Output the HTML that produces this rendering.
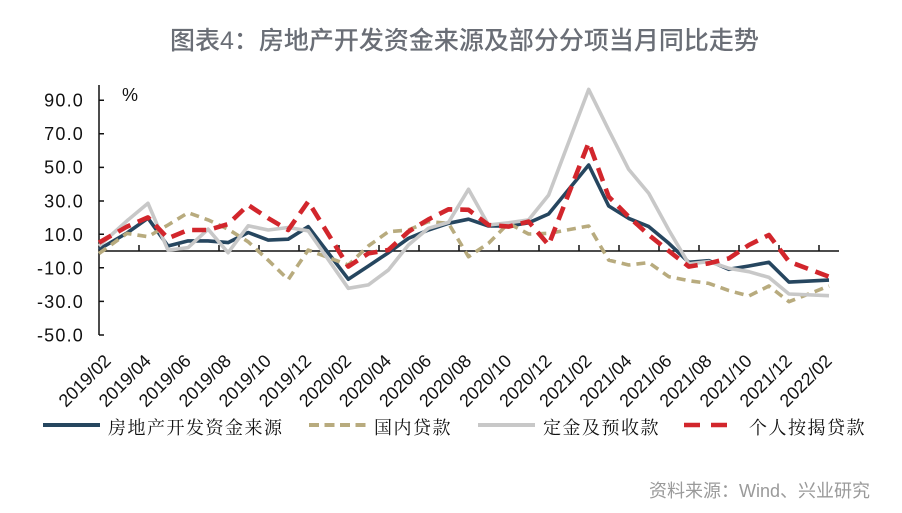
<!DOCTYPE html>
<html><head><meta charset="utf-8"><style>
html,body{margin:0;padding:0;background:#fff;}
svg{display:block;}
</style></head><body>
<svg width="902" height="513" viewBox="0 0 902 513" xmlns="http://www.w3.org/2000/svg">
<rect width="902" height="513" fill="#fff"/>
<text x="170" y="49" font-family="'Liberation Sans','Noto Sans CJK SC',sans-serif" font-size="25" font-weight="500" fill="#6a6e76">图表4：房地产开发资金来源及部分分项当月同比走势</text>

<!-- y axis labels -->
<g font-family="'Liberation Sans',sans-serif" font-size="18" fill="#111" text-anchor="end" letter-spacing="1.2">
<text x="84" y="106.5">90.0</text>
<text x="84" y="140.1">70.0</text>
<text x="84" y="173.7">50.0</text>
<text x="84" y="207.3">30.0</text>
<text x="84" y="240.9">10.0</text>
<text x="84" y="274.5">-10.0</text>
<text x="84" y="308.1">-30.0</text>
<text x="84" y="341.7">-50.0</text>
</g>
<text x="122" y="101" font-family="'Liberation Sans',sans-serif" font-size="18" fill="#111">%</text>

<!-- axes -->
<g stroke="#111" stroke-width="1.5" fill="none">
<line x1="99" y1="85" x2="99" y2="335"/>
<line x1="99" y1="251" x2="839" y2="251"/>
<path d="M99 100.2H104M99 133.8H104M99 167.4H104M99 201H104M99 234.2H104M99 267.8H104M99 301.4H104M99 335H104"/>
<path d="M139 251V245M179 251V245M219 251V245M259 251V245M299 251V245M339 251V245M379 251V245M419 251V245M459 251V245M499 251V245M539 251V245M579 251V245M619 251V245M659 251V245M699 251V245M739 251V245M779 251V245M819 251V245"/>
</g>

<!-- series -->
<g fill="none" stroke-linejoin="round">
<polyline stroke="#26465f" stroke-width="3.6" points="99,249.3 127,233.0 148,218.2 168,246.0 188.1,240.9 208.1,240.9 228.1,242.6 248.2,232.5 268.2,240.1 288.2,239.2 308.2,226.6 348.3,279.2 368.3,266.1 388.4,252.7 408.4,238.4 428.4,230.0 448.5,223.3 468.5,219.2 488.5,226.0 508.5,226.0 528.6,222.8 548.6,214.0 588.7,165.0 608.7,206.0 628.7,218.4 648.8,226.6 668.8,243.3 688.8,262.3 708.9,260.7 728.9,269.3 748.9,266.0 768.9,262.3 789,282.1 829,280.1"/>
<polyline stroke="#b8ab7e" stroke-width="3.6" stroke-dasharray="9 6" points="99,253.5 127,233.4 148,236.7 168,225.0 188.1,212.7 208.1,219.9 228.1,229.2 248.2,241.8 268.2,260.2 288.2,279.6 308.2,250.0 348.3,265.0 368.3,246.0 388.4,231.7 408.4,230.0 428.4,221.6 448.5,223.3 468.5,256.7 488.5,243.3 508.5,223.3 528.6,234.0 548.6,233.4 588.7,226.0 608.7,260.1 628.7,265.0 648.8,262.6 668.8,276.7 688.8,280.7 708.9,283.4 728.9,290.6 748.9,296.0 768.9,286.0 789,301.7 829,286.0"/>
<polyline stroke="#c8c8c8" stroke-width="3.6" points="99,246.0 127,220.8 148,203.3 168,250.2 188.1,247.6 208.1,229.2 228.1,252.7 248.2,225.8 268.2,230.0 288.2,227.5 308.2,230.8 348.3,288.3 368.3,284.9 388.4,270.0 408.4,245.0 428.4,228.3 448.5,222.4 468.5,189.3 488.5,225.0 508.5,222.8 528.6,219.9 548.6,195.1 588.7,89.4 608.7,130.0 628.7,169.4 648.8,193.4 668.8,230.0 688.8,263.9 708.9,261.6 728.9,268.3 748.9,271.7 768.9,277.4 789,294.0 829,295.7"/>
<polyline stroke="#d2262c" stroke-width="4.6" stroke-dasharray="14 8" points="99,242.6 127,226.6 148,217.4 168,238.4 188.1,230.0 208.1,230.0 228.1,224.1 248.2,205.0 268.2,218.2 288.2,230.0 308.2,201.6 348.3,266.6 368.3,253.4 388.4,250.0 408.4,231.7 428.4,219.4 448.5,209.3 468.5,209.8 488.5,225.0 508.5,226.6 528.6,221.6 548.6,245.0 588.7,142.6 608.7,196.7 628.7,216.7 648.8,235.0 668.8,251.0 688.8,266.6 708.9,263.3 728.9,258.4 748.9,245.0 768.9,235.0 789,261.6 829,276.7"/>
</g>

<!-- x labels -->
<g font-family="'Liberation Sans',sans-serif" font-size="18" fill="#111" text-anchor="end">
<text transform="translate(112,362) rotate(-45)">2019/02</text>
<text transform="translate(152.1,362) rotate(-45)">2019/04</text>
<text transform="translate(192.1,362) rotate(-45)">2019/06</text>
<text transform="translate(232.2,362) rotate(-45)">2019/08</text>
<text transform="translate(272.2,362) rotate(-45)">2019/10</text>
<text transform="translate(312.3,362) rotate(-45)">2019/12</text>
<text transform="translate(352.4,362) rotate(-45)">2020/02</text>
<text transform="translate(392.4,362) rotate(-45)">2020/04</text>
<text transform="translate(432.5,362) rotate(-45)">2020/06</text>
<text transform="translate(472.5,362) rotate(-45)">2020/08</text>
<text transform="translate(512.6,362) rotate(-45)">2020/10</text>
<text transform="translate(552.7,362) rotate(-45)">2020/12</text>
<text transform="translate(592.7,362) rotate(-45)">2021/02</text>
<text transform="translate(632.8,362) rotate(-45)">2021/04</text>
<text transform="translate(672.8,362) rotate(-45)">2021/06</text>
<text transform="translate(712.9,362) rotate(-45)">2021/08</text>
<text transform="translate(753,362) rotate(-45)">2021/10</text>
<text transform="translate(793,362) rotate(-45)">2021/12</text>
<text transform="translate(833,362) rotate(-45)">2022/02</text>
</g>

<!-- legend -->
<line x1="43" y1="425" x2="100" y2="425" stroke="#26465f" stroke-width="4"/>
<line x1="309" y1="425" x2="367" y2="425" stroke="#b8ab7e" stroke-width="4" stroke-dasharray="10 5.5"/>
<line x1="478" y1="425" x2="535" y2="425" stroke="#c8c8c8" stroke-width="4"/>
<line x1="684" y1="425" x2="727" y2="425" stroke="#d2262c" stroke-width="4.6" stroke-dasharray="16 11"/>
<g font-family="'Liberation Serif','Noto Serif CJK SC',serif" font-size="18" fill="#111" letter-spacing="1.5">
<text x="108" y="434">房地产开发资金来源</text>
<text x="374" y="434">国内贷款</text>
<text x="543" y="434">定金及预收款</text>
<text x="749" y="434">个人按揭贷款</text>
</g>

<text x="870" y="497" text-anchor="end" font-family="'Liberation Sans','Noto Sans CJK SC',sans-serif" font-size="18" fill="#9a9a9a">资料来源：Wind、兴业研究</text>
</svg>
</body></html>
